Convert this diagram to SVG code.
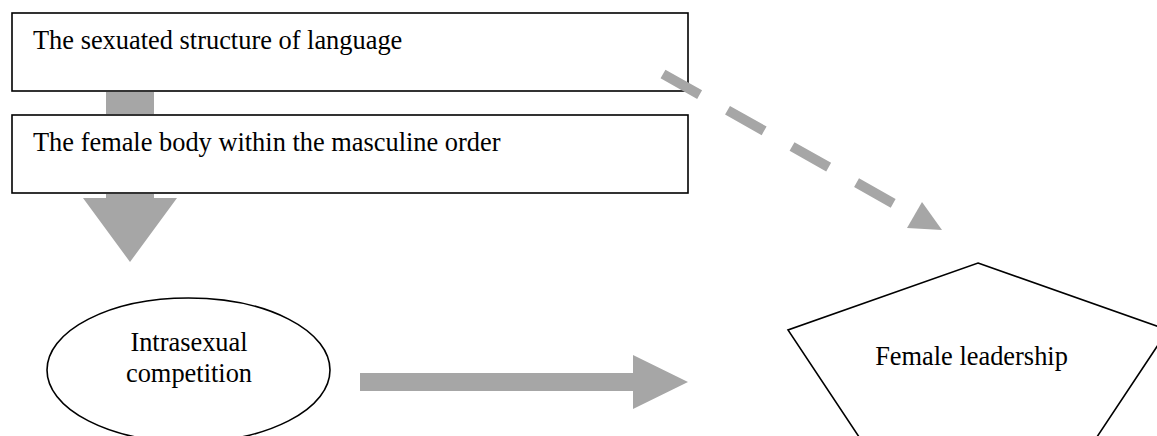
<svg xmlns="http://www.w3.org/2000/svg" width="1157" height="436" viewBox="0 0 1157 436">
<style>
.box{fill:#fff;stroke:#000;stroke-width:1.6}
.lbl{font-family:"Liberation Serif","Times New Roman",serif;font-size:26.4px;fill:#000}
.mid{text-anchor:middle}
.arr{fill:#a6a6a6;stroke:none}
.dash{fill:none;stroke:#a6a6a6;stroke-width:10;stroke-dasharray:42 32}
</style>
<rect width="1157" height="436" fill="#fff"/>
<g id="node-language">
<rect class="box" x="12" y="13" width="676" height="78"/>
<text class="lbl" x="33" y="49">The sexuated structure of language</text>
</g>
<g id="node-body">
<rect class="box" x="12" y="115" width="676" height="78"/>
<text class="lbl" x="33" y="151">The female body within the masculine order</text>
</g>
<g id="node-competition">
<ellipse class="box" cx="188.5" cy="370" rx="141.5" ry="72"/>
<text class="lbl mid" x="189" y="351">Intrasexual</text>
<text class="lbl mid" x="189" y="382">competition</text>
</g>
<g id="node-leadership">
<polygon class="box" points="978,263 1168,330 1075,470 881,470 788,330"/>
<text class="lbl mid" x="971.5" y="365">Female leadership</text>
</g>
<g id="connectors">
<rect class="arr" x="106" y="92" width="48" height="22"/>
<path class="arr" d="M106,194 H154 V198 H177 L130,262 L83,198 H106 Z"/>
<path class="arr" d="M360,373 H633 V355 L688,382 L633,409 V391 H360 Z"/>
<path class="dash" d="M663,74 L914,215"/>
<polygon class="arr" points="922,202 942,230 907,228"/>
</g>
</svg>
